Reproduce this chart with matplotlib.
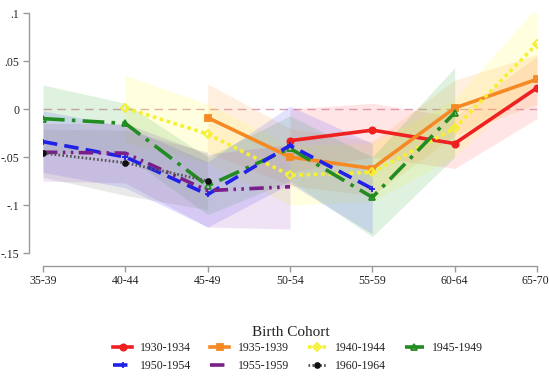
import numpy as np
import matplotlib
matplotlib.use("Agg")
import matplotlib.pyplot as plt
from matplotlib.transforms import ScaledTranslation

nan = np.nan

age_groups = ["35-39", "40-44", "45-49", "50-54", "55-59", "60-64", "65-70"]
cohorts = ["1930-1934", "1935-1939", "1940-1944", "1945-1949",
           "1950-1954", "1955-1959", "1960-1964"]

est_1930 = [nan, nan, nan, -0.033, -0.022, -0.036, 0.022]
lo_1930 = [nan, nan, nan, -0.066, -0.050, -0.062, -0.010]
hi_1930 = [nan, nan, nan, 0.000, 0.006, -0.008, 0.055]

est_1935 = [nan, nan, -0.009, -0.050, -0.062, 0.001, 0.031]
lo_1935 = [nan, nan, -0.045, -0.080, -0.090, -0.027, 0.005]
hi_1935 = [nan, nan, 0.026, -0.020, -0.034, 0.030, 0.057]

est_1940 = [nan, 0.001, -0.026, -0.069, -0.066, -0.020, 0.068]
lo_1940 = [nan, -0.035, -0.056, -0.100, -0.096, -0.050, 0.030]
hi_1940 = [nan, 0.035, 0.005, -0.038, -0.036, 0.010, 0.106]

est_1945 = [-0.010, -0.015, -0.080, -0.041, -0.092, -0.004, nan]
lo_1945 = [-0.045, -0.048, -0.110, -0.075, -0.133, -0.050, nan]
hi_1945 = [0.025, 0.006, -0.050, -0.007, -0.050, 0.043, nan]

est_1950 = [-0.034, -0.050, -0.089, -0.038, -0.083, nan, nan]
lo_1950 = [-0.066, -0.082, -0.123, -0.078, -0.130, nan, nan]
hi_1950 = [-0.002, -0.018, -0.055, 0.003, -0.036, nan, nan]

est_1955 = [-0.045, -0.046, -0.085, -0.081, nan, nan, nan]
lo_1955 = [-0.075, -0.077, -0.123, -0.125, nan, nan, nan]
hi_1955 = [-0.015, -0.015, -0.047, -0.037, nan, nan, nan]

est_1960 = [-0.046, -0.056, -0.075, nan, nan, nan, nan]
lo_1960 = [-0.071, -0.090, -0.105, nan, nan, nan, nan]
hi_1960 = [-0.021, -0.022, -0.045, nan, nan, nan, nan]

series = [
    (est_1930, lo_1930, hi_1930),
    (est_1935, lo_1935, hi_1935),
    (est_1940, lo_1940, hi_1940),
    (est_1945, lo_1945, hi_1945),
    (est_1950, lo_1950, hi_1950),
    (est_1955, lo_1955, hi_1955),
    (est_1960, lo_1960, hi_1960),
]

colors = ["#ee2020", "#f58a25", "#f5f030", "#228b22", "#2020e8", "#7a1f8a", "#111111"]
band_colors = ["#ff6a6a", "#ffa545", "#ffff45", "#45b045", "#5555ff", "#a055c0", "#808080"]
styles = [
    dict(linestyle="-", marker="o", markersize=4.5, mfc=None),
    dict(linestyle="-", marker="s", markersize=4.5, mfc=None),
    dict(linestyle=(0, (1, 1)), marker="D", markersize=4.5, mfc="none"),
    dict(linestyle=(0, (6, 2, 1, 2)), marker="^", markersize=4.5, mfc="none"),
    dict(linestyle=(0, (4, 2)), marker="+", markersize=4, mfc=None),
    dict(linestyle=(0, (4, 1.5, 0.7, 1.5, 0.7, 1.5)), marker="", markersize=4, mfc=None),
    dict(linestyle=(0, (0.6, 0.8)), marker="o", markersize=3.5, mfc=None),
]

serif = ["Liberation Serif", "DejaVu Serif"]
plt.rcParams["font.family"] = serif

fig = plt.figure(figsize=(5.49, 3.78), dpi=100)
W, H = 549, 378
ax = fig.add_axes([43 / W, 1 - 253 / H, (537 - 43) / W, (253 - 13) / H])

x = np.arange(len(age_groups))
ax.axhline(0, color="#d8a0b8", linestyle=(0, (6, 4)), linewidth=1.0, zorder=1)

handles = []
for i, (est, lo, hi) in enumerate(series):
    est = np.array(est, dtype=float)
    lo = np.array(lo, dtype=float)
    hi = np.array(hi, dtype=float)
    ok = ~np.isnan(est)
    ax.fill_between(x[ok], lo[ok], hi[ok], color=band_colors[i], alpha=0.17,
                    linewidth=0, zorder=2)
for i, (est, lo, hi) in enumerate(series):
    est = np.array(est, dtype=float)
    ok = ~np.isnan(est)
    st = styles[i]
    kw = dict(color=colors[i], linewidth=2.6, linestyle=st["linestyle"],
              marker=st["marker"], markersize=st["markersize"],
              markeredgewidth=1.3, zorder=3 + i, label=cohorts[i])
    if st["mfc"] is not None:
        kw["markerfacecolor"] = st["mfc"]
    if i == 6:
        kw["linewidth"] = 2.0
        kw["color"] = "#555555"
        kw["markerfacecolor"] = "#111111"
        kw["markeredgecolor"] = "#111111"
    (h,) = ax.plot(x[ok], est[ok], **kw)
    handles.append(h)

ax.set_xlim(0, len(age_groups) - 1)
ax.set_ylim(-0.15, 0.1)
ax.set_xticks(x)
ax.set_xticklabels(age_groups)
yt = [0.1, 0.05, 0, -0.05, -0.1, -0.15]
ax.set_yticks(yt)
ax.set_yticklabels([".1", ".05", "0", "-.05", "-.1", "-.15"])

for side in ["top", "right"]:
    ax.spines[side].set_visible(False)
ax.spines["left"].set_position(("outward", 10))
ax.spines["bottom"].set_position(("outward", 9))
for side in ["left", "bottom"]:
    ax.spines[side].set_color("#9a9a9a")
    ax.spines[side].set_linewidth(1.0)
ax.tick_params(axis="both", colors="#9a9a9a", length=4, width=1.0,
               labelcolor="#222222", labelsize=8.5, pad=3)
ax.patch.set_alpha(0)

# keep the last age label inside the canvas
last = ax.get_xticklabels()[-1]
last.set_horizontalalignment("right")
last.set_transform(last.get_transform() + ScaledTranslation(12 / 100, 0, fig.dpi_scale_trans))

fig.text(291 / W, 1 - 332 / H, "Birth Cohort", ha="center", va="center",
         fontsize=11, color="#222222")

order = [0, 4, 1, 5, 2, 6, 3]
leg = fig.legend([handles[k] for k in order], [cohorts[k] for k in order],
                 loc="center", bbox_to_anchor=(298 / W, 1 - 357 / H), ncol=4,
                 frameon=False, fontsize=8.5, handlelength=1.6,
                 handletextpad=0.7, columnspacing=1.6, labelspacing=0.45,
                 borderpad=0)
for t in leg.get_texts():
    t.set_color("#222222")

fig.savefig("out.png", dpi=100)
